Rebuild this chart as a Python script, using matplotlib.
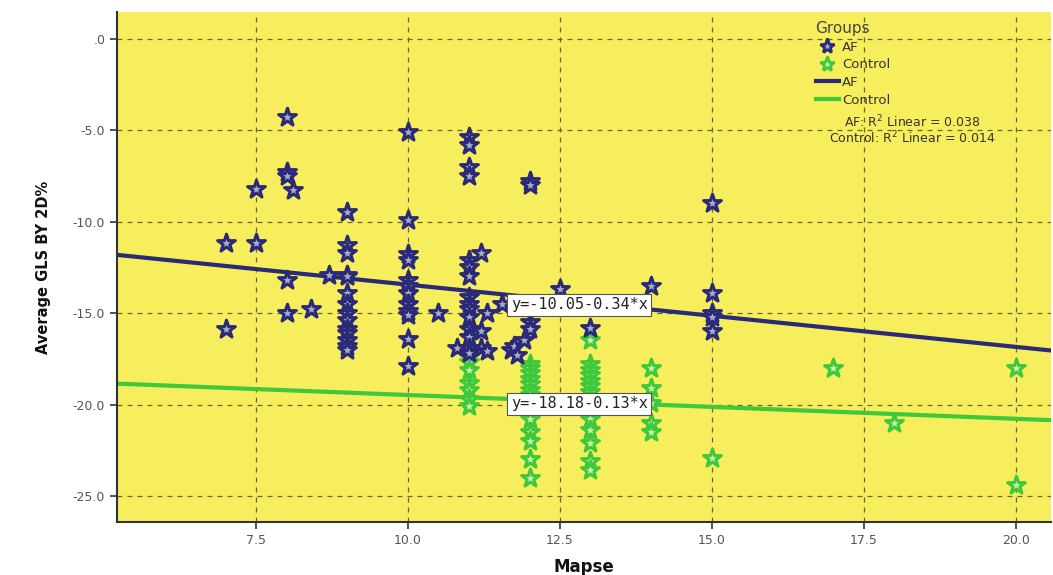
import matplotlib
matplotlib.use("Agg")
import matplotlib.pyplot as plt
from matplotlib.lines import Line2D
import numpy as np

# ---------------- data ----------------
af_x = [7.0, 7.0,
        7.5, 7.5,
        8.0, 8.0, 8.0, 8.0, 8.0,
        8.1, 8.4, 8.7,
        9.0, 9.0, 9.0, 9.0, 9.0, 9.0, 9.0, 9.0, 9.0, 9.0, 9.0, 9.0, 9.0, 9.0,
        10.0, 10.0, 10.0, 10.0, 10.0, 10.0, 10.0, 10.0, 10.0, 10.0, 10.0, 10.0,
        10.5, 10.8,
        11.0, 11.0, 11.0, 11.0, 11.0, 11.0, 11.0, 11.0, 11.0, 11.0, 11.0, 11.0, 11.0, 11.0, 11.0,
        11.2, 11.2, 11.2,
        11.3, 11.3,
        11.55, 11.7, 11.75, 11.8, 11.9,
        12.0, 12.0, 12.0, 12.0,
        12.5, 13.0, 14.0,
        15.0, 15.0, 15.0, 15.0, 15.0]
af_y = [-11.2, -15.9,
        -8.2, -11.2,
        -4.3, -7.3, -7.5, -13.2, -15.0,
        -8.3, -14.8, -12.9,
        -9.5, -11.3, -11.7, -12.9, -13.0, -13.9, -14.5, -15.0, -15.4, -15.9, -16.1, -16.5, -16.8, -17.0,
        -5.1, -9.9, -11.8, -12.1, -13.2, -13.5, -13.9, -14.5, -14.9, -15.1, -16.4, -17.9,
        -15.0, -16.9,
        -5.4, -5.8, -7.0, -7.5, -12.1, -12.5, -13.0, -14.1, -14.5, -14.8, -15.2, -15.9, -16.3, -16.9, -17.2,
        -11.7, -16.0, -16.9,
        -15.0, -17.1,
        -14.5, -17.0, -16.8, -17.3, -16.5,
        -7.8, -8.0, -15.5, -15.9,
        -13.7, -15.8, -13.5,
        -9.0, -13.9, -15.0, -15.2, -16.0]

ctrl_x = [11.0, 11.0, 11.0, 11.0, 11.0, 11.0,
          12.0, 12.0, 12.0, 12.0, 12.0, 12.0, 12.0, 12.0, 12.0, 12.0, 12.0, 12.0, 12.0,
          13.0, 13.0, 13.0, 13.0, 13.0, 13.0, 13.0, 13.0, 13.0, 13.0, 13.0, 13.0, 13.0, 13.0, 13.0,
          14.0, 14.0, 14.0, 14.0, 14.0,
          15.0, 17.0, 18.0, 20.0, 20.0]
ctrl_y = [-17.7, -18.1, -18.8, -19.2, -19.7, -20.1,
          -17.8, -18.0, -18.3, -18.6, -18.9, -19.2, -19.5, -20.0, -20.8, -21.5, -22.0, -23.0, -24.0,
          -16.5, -17.8, -18.1, -18.4, -18.7, -19.0, -19.3, -19.6, -20.0, -20.3, -20.8, -21.4, -22.1, -23.1, -23.6,
          -18.0, -19.1, -19.9, -21.0, -21.5,
          -22.9, -18.0, -21.0, -18.0, -24.4]

af_intercept, af_slope = -10.05, -0.34
ctrl_intercept, ctrl_slope = -18.18, -0.13
af_r2, ctrl_r2 = 0.038, 0.014

x_ticks = [7.5, 10.0, 12.5, 15.0, 17.5, 20.0]
x_ticklabels = ["7.5", "10.0", "12.5", "15.0", "17.5", "20.0"]
y_ticks = [0, -5, -10, -15, -20, -25]
y_ticklabels = [".0", "-5.0", "-10.0", "-15.0", "-20.0", "-25.0"]

# ---------------- style ----------------
NAVY = "#2a2a78"
GREEN = "#3ec83c"
BG = "#f6ee5c"
GRID = "#6a6530"
XLIM = (5.21, 20.58)
YLIM = (-26.42, 1.45)

fig = plt.figure(figsize=(10.53, 5.75), dpi=100)
ax = fig.add_axes([117/1053, 1 - 522/575, (1051 - 117)/1053, (522 - 12)/575])
ax.set_facecolor(BG)
ax.set_xlim(*XLIM)
ax.set_ylim(*YLIM)

ax.set_xticks(x_ticks)
ax.set_xticklabels(x_ticklabels)
ax.set_yticks(y_ticks)
ax.set_yticklabels(y_ticklabels)
ax.tick_params(axis="both", direction="out", length=5, width=1.2, color="#333333",
               labelsize=9, labelcolor="#555555")
ax.grid(True, linestyle=(0, (4, 4)), color=GRID, linewidth=0.9)
ax.set_axisbelow(True)

for s in ["top", "right"]:
    ax.spines[s].set_visible(False)
for s in ["left", "bottom"]:
    ax.spines[s].set_color("#333333")
    ax.spines[s].set_linewidth(1.5)

# regression lines
xs = np.array(XLIM)
ax.plot(xs, af_intercept + af_slope * xs, color=NAVY, lw=3, zorder=2)
ax.plot(xs, ctrl_intercept + ctrl_slope * xs, color=GREEN, lw=3, zorder=2)

# points
ax.scatter(ctrl_x, ctrl_y, marker="*", s=180, facecolor="#c8f0a8", edgecolor=GREEN,
           linewidths=2.2, zorder=3)
ax.scatter(af_x, af_y, marker="*", s=180, facecolor="#a8a8cc", edgecolor=NAVY,
           linewidths=2.2, zorder=4)

# equation labels
lbl_x = 11.69
box = dict(boxstyle="square,pad=0.25", facecolor="white", edgecolor="#555555", linewidth=0.8)
ax.text(lbl_x, -14.56, "y=-10.05-0.34*x", ha="left", va="center", fontsize=11,
        family="DejaVu Sans Mono", color="#222222", bbox=box, zorder=6)
ax.text(lbl_x, -19.97, "y=-18.18-0.13*x", ha="left", va="center", fontsize=11,
        family="DejaVu Sans Mono", color="#222222", bbox=box, zorder=6)

# legend
handles = [
    Line2D([], [], marker="*", linestyle="none", markersize=11, markerfacecolor="#a8a8cc",
           markeredgecolor=NAVY, markeredgewidth=2, label="AF"),
    Line2D([], [], marker="*", linestyle="none", markersize=11, markerfacecolor="#c8f0a8",
           markeredgecolor=GREEN, markeredgewidth=2, label="Control"),
    Line2D([], [], color=NAVY, lw=3, label="AF"),
    Line2D([], [], color=GREEN, lw=3, label="Control"),
]
leg = ax.legend(handles=handles, title="Groups", loc="upper left",
                bbox_to_anchor=(0.738, 1.0), frameon=False, fontsize=9.5,
                title_fontsize=11, handlelength=1.8, handletextpad=0.2,
                labelspacing=0.35, borderaxespad=0.3)
leg._legend_box.align = "left"
for t in leg.get_texts():
    t.set_color("#333333")
leg.get_title().set_color("#444444")

ax.text(0.852, 0.785, f"AF: R$^2$ Linear = {af_r2:.3f}", transform=ax.transAxes,
        ha="center", va="center", fontsize=9, color="#333333")
ax.text(0.852, 0.753, f"Control: R$^2$ Linear = {ctrl_r2:.3f}", transform=ax.transAxes,
        ha="center", va="center", fontsize=9, color="#333333")

ax.set_xlabel("Mapse", fontsize=12, fontweight="bold", color="#111111", labelpad=8)
ax.set_ylabel("Average GLS BY 2D%", fontsize=10.5, fontweight="bold", color="#111111",
              labelpad=16)

fig.savefig("out.png", dpi=100, facecolor="white")
